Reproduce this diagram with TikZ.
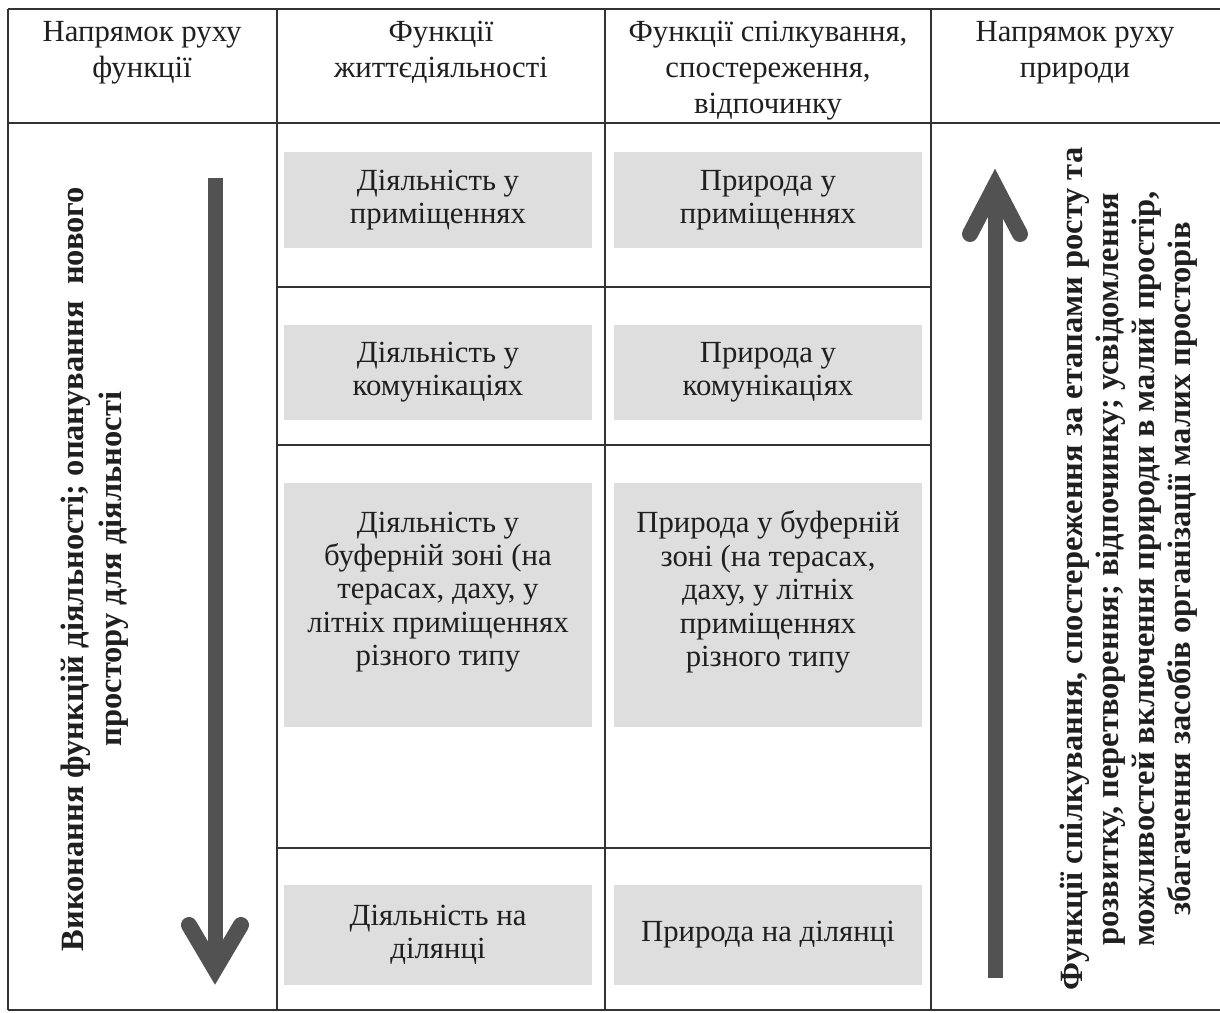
\documentclass[tikz,border=0pt]{standalone}
\usepackage{fontspec}
\setmainfont{Liberation Serif}
\usetikzlibrary{positioning}
\tikzset{node distance=6.6cm, % Distance between the two shaded columns
        grid/.style={ % Rules of the table
            draw=black!80,
            line width=0.8pt},
        head/.style={ % Column titles
            anchor=north,
            align=center,
            text=black!88,
            font=\fontsize{17.5}{20.5}\selectfont},
        cell/.style={ % Shaded boxes
            fill=black!13,
            text=black!88,
            minimum width=6.16cm,
            align=center,
            font=\fontsize{17.5}{19}\selectfont},
        celltext/.style={
            text=black!88,
            align=center,
            font=\fontsize{17.5}{19}\selectfont},
        side/.style={ % Rotated bold captions
            rotate=90,
            align=center,
            text=black!88,
            font=\bfseries\fontsize{18.5}{21.5}\selectfont},
        shaft/.style={
            draw=black!68,
            line width=0.3cm},
        barb/.style={ % Arrow heads with rounded ends
            draw=black!68,
            line width=0.32cm,
            line cap=round,
            line join=miter}
        }

\begin{document}
\begin{tikzpicture}[x=0.02cm,y=-0.02cm]
    \useasboundingbox (0,0) rectangle (1220,1012);

    \draw[grid] (8,9) -- (1220,9);
    \draw[grid] (8,123) -- (1220,123);
    \draw[grid] (8,1010) -- (1220,1010);
    \draw[grid] (8,9) -- (8,1010);
    \foreach \x in {277,605,931}
        \draw[grid] (\x,9) -- (\x,1010);
    \foreach \y in {287,445,848}
        \draw[grid] (277,\y) -- (931,\y);

    \node[head] (h1) at (142,15)  {Напрямок руху\\функції};
    \node[head] (h2) at (441,15)  {Функції\\життєдіяльності};
    \node[head] (h3) at (768,15)  {Функції спілкування,\\спостереження,\\відпочинку};
    \node[head] (h4) at (1075,15) {Напрямок руху\\природи};

    \node[cell,minimum height=1.92cm] (d1) at (438,200)  {Діяльність у\\приміщеннях};
    \node[cell,minimum height=1.92cm] (n1) [right of=d1] {Природа у\\приміщеннях};
    \node[cell,minimum height=1.9cm]  (d2) at (438,372)  {Діяльність у\\комунікаціях};
    \node[cell,minimum height=1.9cm]  (n2) [right of=d2] {Природа у\\комунікаціях};
    \node[cell,minimum height=4.9cm]  (d3) at (438,605)  {};
    \node[cell,minimum height=4.9cm]  (n3) [right of=d3] {};
    \node[celltext] (d3t) at (438,592) {Діяльність у\\буферній зоні (на\\терасах, даху, у\\літніх приміщеннях\\різного типу};
    \node[celltext] (n3t) at (768,592) {Природа у буферній\\зоні (на терасах,\\даху, у літніх\\приміщеннях\\різного типу};
    \node[cell,minimum height=2.0cm]  (d4) at (438,935)  {Діяльність на\\ділянці};
    \node[cell,minimum height=2.0cm]  (n4) [right of=d4] {Природа на ділянці};

    \coordinate (ltop) at (215,178);
    \coordinate (ltip) at (215,969);
    \coordinate (lbl)  at (189,925);
    \coordinate (lbr)  at (241,925);
    \draw[shaft] (ltop) -- (ltip);
    \draw[barb] (lbl) -- (ltip) -- (lbr);

    \coordinate (rbot) at (995,978);
    \coordinate (rtip) at (995,186);
    \coordinate (rbl)  at (970,234);
    \coordinate (rbr)  at (1020,234);
    \draw[shaft] (rbot) -- (rtip);
    \draw[barb] (rbl) -- (rtip) -- (rbr);

    \node[side] (lcap) at (95,569)
        {Виконання функцій діяльності; опанування\ \ нового\\простору для діяльності};
    \node[side,font=\bfseries\fontsize{18.5}{20.5}\selectfont] (rcap) at (1129,569)
        {Функції спілкування, спостереження за етапами росту та\\розвитку, перетворення; відпочинку; усвідомлення\\можливостей включення природи в малий простір,\\збагачення засобів організації малих просторів};
\end{tikzpicture}
\end{document}
